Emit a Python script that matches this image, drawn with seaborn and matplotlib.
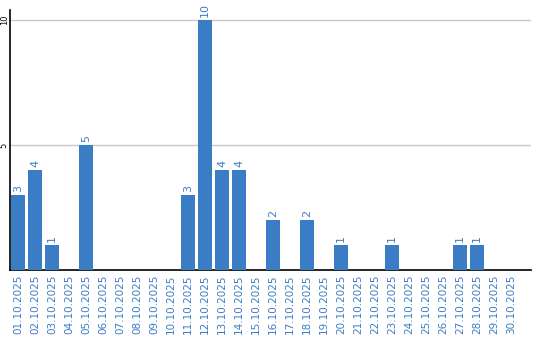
import matplotlib
matplotlib.use("Agg")
import matplotlib.pyplot as plt
import seaborn as sns
import pandas as pd

dates = [f"{d:02d}.10.2025" for d in range(1, 31)]
values = [3, 4, 1, 0, 5, 0, 0, 0, 0, 0,
          3, 10, 4, 4, 0, 2, 0, 2, 0, 1,
          0, 0, 1, 0, 0, 0, 1, 1, 0, 0]
yticks = [5, 10]

BLUE = "#3b7dc4"

sns.set_style("white")
plt.rcParams['font.family'] = ['DejaVu Sans']

df = pd.DataFrame({"date": dates, "value": values})

fig = plt.figure(figsize=(5.4, 3.4), dpi=100)
ax = fig.add_axes([10/540, 70/340, 521/540, 260/340])

sns.barplot(data=df, x="date", y="value", color=BLUE, width=0.85,
            saturation=1, ax=ax, zorder=3, linewidth=0, edgecolor="none")

ax.set_xlim(-0.47, 30.18)
ax.set_ylim(0, 10.4)
ax.set_yticks(yticks)
ax.set_yticklabels([str(t) for t in yticks], rotation=90, fontsize=6,
                   va="center", color="black")
ax.yaxis.grid(True, color="#c8c8c8", linewidth=1, zorder=0)
ax.tick_params(axis="y", length=0, pad=1)
ax.tick_params(axis="x", length=0, pad=3)
ax.set_xticks(range(len(dates)))
ax.set_xticklabels(dates, rotation=90, fontsize=7.5, color=BLUE)
ax.set_xlabel("")
ax.set_ylabel("")

for s in ["top", "right"]:
    ax.spines[s].set_visible(False)
for s in ["left", "bottom"]:
    ax.spines[s].set_color("black")
    ax.spines[s].set_linewidth(1.2)

for i, v in enumerate(values):
    if v > 0:
        ax.annotate(str(v), (i, v), xytext=(0, 2), textcoords="offset points",
                    ha="center", va="bottom", rotation=90, fontsize=8,
                    color=BLUE, annotation_clip=False)

fig.savefig("out.png", dpi=100)
